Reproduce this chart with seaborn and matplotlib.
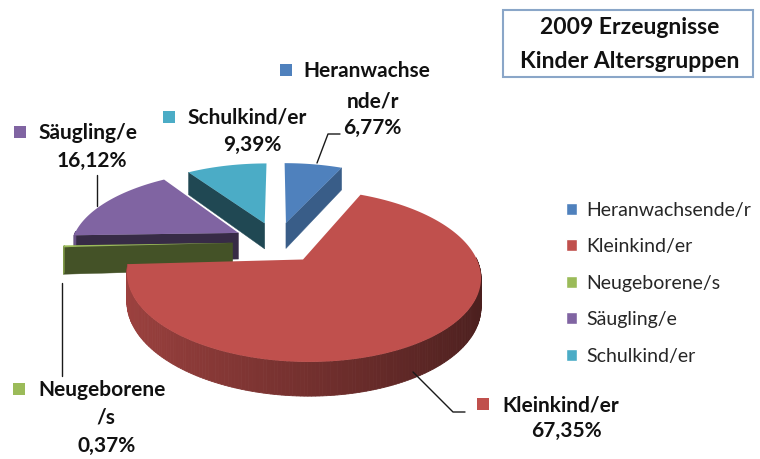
import numpy as np
import matplotlib
matplotlib.use("Agg")
import matplotlib.pyplot as plt
from matplotlib.patches import Polygon, Rectangle, Patch
import seaborn as sns

# Daten
kategorien = ["Heranwachsende/r", "Kleinkind/er", "Neugeborene/s", "Säugling/e", "Schulkind/er"]
anteile = [6.77, 67.35, 0.37, 16.12, 9.39]
etiketten = ["Heranwachse\nnde/r", "Kleinkind/er", "Neugeborene\n/s", "Säugling/e", "Schulkind/er"]
titel_zeilen = ["2009 Erzeugnisse", "Kinder Altersgruppen"]

farben = sns.color_palette(["#4F81BD", "#C0504D", "#9BBB59", "#8064A2", "#4BACC6"])

sns.set_theme(style="white")
plt.rcParams["font.family"] = ["Lato", "DejaVu Sans"]

# 3D-Darstellung (Excel-Stil)
STAUCHUNG = 0.46
PERSPEKTIVE = 0.18
HOEHE = 0.16
EXPLOSION = 0.265
W, H = 760, 459
MX, MY, R = 277, 242, 167   # Mitte und Radius in Pixel


def proj(gx, gy, z=0.0):
    f = 1.0 / (1.0 + PERSPEKTIVE * gy)
    return gx * f, (gy * STAUCHUNG + z) * f


def abdunkeln(farbe, faktor):
    return tuple(np.clip(np.array(farbe) * faktor, 0, 1))


fig = plt.figure(figsize=(W / 100, H / 100), dpi=100)
ax = fig.add_axes([0, 0, 1, 1])
ax.set_xlim(-MX / R, (W - MX) / R)
ax.set_ylim(-(H - MY) / R, MY / R)
ax.axis("off")

werte = np.array(anteile)
grenzen = np.radians(90 - 360 * np.concatenate([[0], np.cumsum(werte)]) / werte.sum())
mitten = (grenzen[:-1] + grenzen[1:]) / 2

# hintere Stücke zuerst zeichnen
for i in np.argsort(-np.sin(mitten)):
    a0, a1 = grenzen[i], grenzen[i + 1]
    ox, oy = EXPLOSION * np.cos(mitten[i]), EXPLOSION * np.sin(mitten[i])
    t = np.linspace(a0, a1, max(int(abs(a1 - a0) / np.radians(1)), 2))
    rx, ry = ox + np.cos(t), oy + np.sin(t)

    # Schnittflächen
    for a, vz in ((a0, 1), (a1, -1)):
        normal = a + vz * np.pi / 2
        if np.sin(normal) < -0.01:
            ex, ey = ox + np.cos(a), oy + np.sin(a)
            pts = [proj(ox, oy), proj(ex, ey), proj(ex, ey, -HOEHE), proj(ox, oy, -HOEHE)]
            c = abdunkeln(farben[i], 0.42 + 0.33 * max(np.cos(normal), 0))
            ax.add_patch(Polygon(pts, closed=True, facecolor=c, edgecolor=c, lw=0.3))

    # Mantel
    for k in range(len(t) - 1):
        tm = (t[k] + t[k + 1]) / 2
        if np.sin(tm) < 0.02:
            pts = [proj(rx[k], ry[k]), proj(rx[k + 1], ry[k + 1]),
                   proj(rx[k + 1], ry[k + 1], -HOEHE), proj(rx[k], ry[k], -HOEHE)]
            c = abdunkeln(farben[i], 0.6 - 0.22 * np.cos(tm))
            ax.add_patch(Polygon(pts, closed=True, facecolor=c, edgecolor=c, lw=0.6))

    # Deckfläche
    xs, ys = proj(np.r_[ox, rx], np.r_[oy, ry])
    ax.fill(xs, ys, color=farben[i], lw=0)

# Legende
ax.legend(handles=[Patch(facecolor=c, label=k) for c, k in zip(farben, kategorien)],
          loc="upper left", bbox_to_anchor=(558 / W, 1 - 194 / H), frameon=False,
          fontsize=14, handlelength=0.57, handleheight=0.57, handletextpad=0.5,
          labelspacing=1.0, borderaxespad=0, labelcolor="#262626")

# Overlay in Pixelkoordinaten für Beschriftungen
ov = fig.add_axes([0, 0, 1, 1])
ov.set_xlim(0, W)
ov.set_ylim(H, 0)
ov.axis("off")
ov.patch.set_visible(False)

# Beschriftungen: (Marker x, Grundlinie y, Text links x, Folgezeilen (Mitte x, Grundlinie y))
lage = [
    (286, 77, 303, [(373, 108), (372, 134)]),
    (483, 411, 502, [(566, 437)]),
    (19, 396, 38, [(106, 423), (107, 452)]),
    (20, 139, 38, [(92, 167)]),
    (169, 124, 187, [(252, 151)]),
]
schrift = dict(fontsize=15, fontweight="bold", color="#111111", va="baseline")
for i, (mx, by, tx, folge) in enumerate(lage):
    zeilen = etiketten[i].split("\n") + [f"{anteile[i]:.2f}".replace(".", ",") + "%"]
    ov.add_patch(Rectangle((mx - 6, by - 13), 12, 12, facecolor=farben[i], edgecolor="none"))
    ov.text(tx, by, zeilen[0], ha="left", **schrift)
    for (fx, fy), z in zip(folge, zeilen[1:]):
        ov.text(fx, fy, z, ha="center", **schrift)

# Führungslinien
linien = [
    ([317, 328, 340], [163, 134, 134]),
    ([413, 453, 465], [372, 412, 412]),
    ([62, 62], [283, 376]),
    ([97, 97], [175, 206]),
]
for lx, ly in linien:
    ov.plot(lx, ly, color="#1a1a1a", lw=1)

# Titel im Rahmen
ov.add_patch(Rectangle((503, 10), 250, 67, facecolor="white", edgecolor="#8AA6C8", lw=1.5))
for z, y in zip(titel_zeilen, [34, 68]):
    ov.text(630, y, z, ha="center", va="baseline", fontsize=16.5, fontweight="bold", color="#111111")

fig.savefig("out.png", dpi=100)
